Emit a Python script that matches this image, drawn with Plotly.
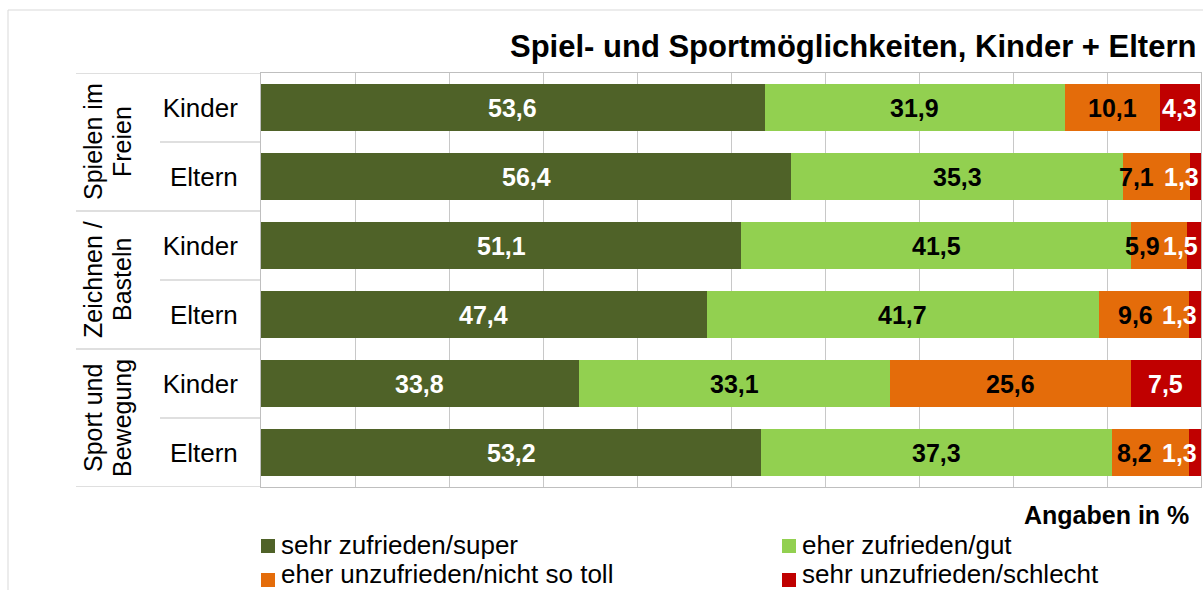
import plotly.graph_objects as go

# Survey data: satisfaction with play and sports options (percent)
groups = ["Spielen im<br>Freien", "Zeichnen /<br>Basteln", "Sport und<br>Bewegung"]
respondents = ["Kinder", "Eltern", "Kinder", "Eltern", "Kinder", "Eltern"]
series_names = [
    "sehr zufrieden/super",
    "eher zufrieden/gut",
    "eher unzufrieden/nicht so toll",
    "sehr unzufrieden/schlecht",
]
sehr_zufrieden = [53.6, 56.4, 51.1, 47.4, 33.8, 53.2]
eher_zufrieden = [31.9, 35.3, 41.5, 41.7, 33.1, 37.3]
eher_unzufrieden = [10.1, 7.1, 5.9, 9.6, 25.6, 8.2]
sehr_unzufrieden = [4.3, 1.3, 1.5, 1.3, 7.5, 1.3]

series_values = [sehr_zufrieden, eher_zufrieden, eher_unzufrieden, sehr_unzufrieden]
colors = ["#4F6228", "#92D050", "#E46C0A", "#C00000"]
label_colors = ["#FFFFFF", "#000000", "#000000", "#FFFFFF"]

# horizontal nudges (px) for labels of narrow segments near the right edge
label_nudge = {
    (1, 2): -20, (1, 3): -14,
    (2, 2): -17, (2, 3): -13,
    (3, 2): -8, (3, 3): -15,
    (5, 2): -16, (5, 3): -15,
}

FONT = "Liberation Sans, Arial, sans-serif"
W, H = 1203, 590
L, R, T, B = 261, 1201, 73, 487  # plot area in pixels


def px_x(p):
    return (p - L) / (R - L)


def px_y(p):
    return (B - p) / (B - T)


rows = list(range(len(respondents)))

fig = go.Figure()
for name, vals, col in zip(series_names, series_values, colors):
    fig.add_trace(go.Bar(
        x=vals, y=rows, orientation="h", name=name,
        marker=dict(color=col, line=dict(width=0)),
        width=0.667, showlegend=False, hoverinfo="x+name",
    ))

annotations = []
# value labels centred on each segment
for r in rows:
    start = 0.0
    for s, vals in enumerate(series_values):
        v = vals[r]
        annotations.append(dict(
            x=start + v / 2, y=r, xref="x", yref="y",
            text="<b>" + f"{v:.1f}".replace(".", ",") + "</b>",
            showarrow=False, xshift=label_nudge.get((r, s), 0),
            font=dict(family=FONT, size=25, color=label_colors[s]),
        ))
        start += v

# rotated group labels, one annotation per line
line_x = [93, 122]
for g, label in enumerate(groups):
    yc = 2 * g + 0.5
    for i, part in enumerate(label.split("<br>")):
        annotations.append(dict(
            x=px_x(line_x[i]), y=yc, xref="paper", yref="y",
            text=part, textangle=-90, showarrow=False,
            xanchor="center", yanchor="middle",
            font=dict(family=FONT, size=25, color="#000000"),
        ))

# title and unit note
annotations.append(dict(
    x=px_x(1198), y=px_y(47), xref="paper", yref="paper",
    text="<b>Spiel- und Sportmöglichkeiten, Kinder + Eltern</b>",
    showarrow=False, xanchor="right", yanchor="middle",
    font=dict(family=FONT, size=31, color="#000000"),
))
annotations.append(dict(
    x=px_x(1191), y=px_y(515), xref="paper", yref="paper",
    text="<b>Angaben in %</b>", showarrow=False,
    xanchor="right", yanchor="middle",
    font=dict(family=FONT, size=25, color="#000000"),
))

shapes = []
# outer chart frame
shapes.append(dict(
    type="rect", xref="paper", yref="paper",
    x0=px_x(8), x1=px_x(1215), y0=px_y(600), y1=px_y(10),
    line=dict(color="#D9D9D9", width=1), layer="below",
))
# category table dividers
for yv in [-0.5, 1.5, 3.5, 5.5]:
    shapes.append(dict(type="line", xref="paper", yref="y",
                       x0=px_x(76), x1=0, y0=yv, y1=yv,
                       line=dict(color="#BFBFBF", width=1)))
for yv in [0.5, 2.5, 4.5]:
    shapes.append(dict(type="line", xref="paper", yref="y",
                       x0=px_x(160), x1=0, y0=yv, y1=yv,
                       line=dict(color="#BFBFBF", width=1)))

# legend: two columns, two rows (swatch centre y, text box bottom y)
legend_pos = [(261, 546, 561), (782, 546, 561), (261, 580, 590), (782, 580, 590)]
for name, col, (lx, ly, tb) in zip(series_names, colors, legend_pos):
    shapes.append(dict(type="rect", xref="paper", yref="paper",
                       x0=px_x(lx), x1=px_x(lx + 14),
                       y0=px_y(ly + 7), y1=px_y(ly - 7),
                       fillcolor=col, line=dict(width=0)))
    annotations.append(dict(
        x=px_x(lx + 19), y=px_y(tb), xref="paper", yref="paper",
        text=name, showarrow=False, xanchor="left", yanchor="bottom",
        borderpad=0,
        font=dict(family=FONT, size=26, color="#000000"),
    ))

fig.update_layout(
    width=W, height=H,
    margin=dict(l=L, r=W - R, t=T, b=H - B, pad=0),
    paper_bgcolor="#FFFFFF", plot_bgcolor="#FFFFFF",
    barmode="stack", bargap=0.333,
    font=dict(family=FONT, size=25, color="#000000"),
    xaxis=dict(range=[0, 100], dtick=10, showgrid=True, gridcolor="#C8C8C8",
               gridwidth=1, showticklabels=False, zeroline=False,
               showline=True, linecolor="#BFBFBF", mirror=True, ticks=""),
    yaxis=dict(range=[5.5, -0.5], tickvals=rows, ticktext=respondents,
               showgrid=False, zeroline=False, showline=True,
               linecolor="#BFBFBF", mirror=True, ticks="",
               ticklabelstandoff=17,
               tickfont=dict(family=FONT, size=26, color="#000000")),
    annotations=annotations, shapes=shapes,
)

fig.write_html("out.html")
